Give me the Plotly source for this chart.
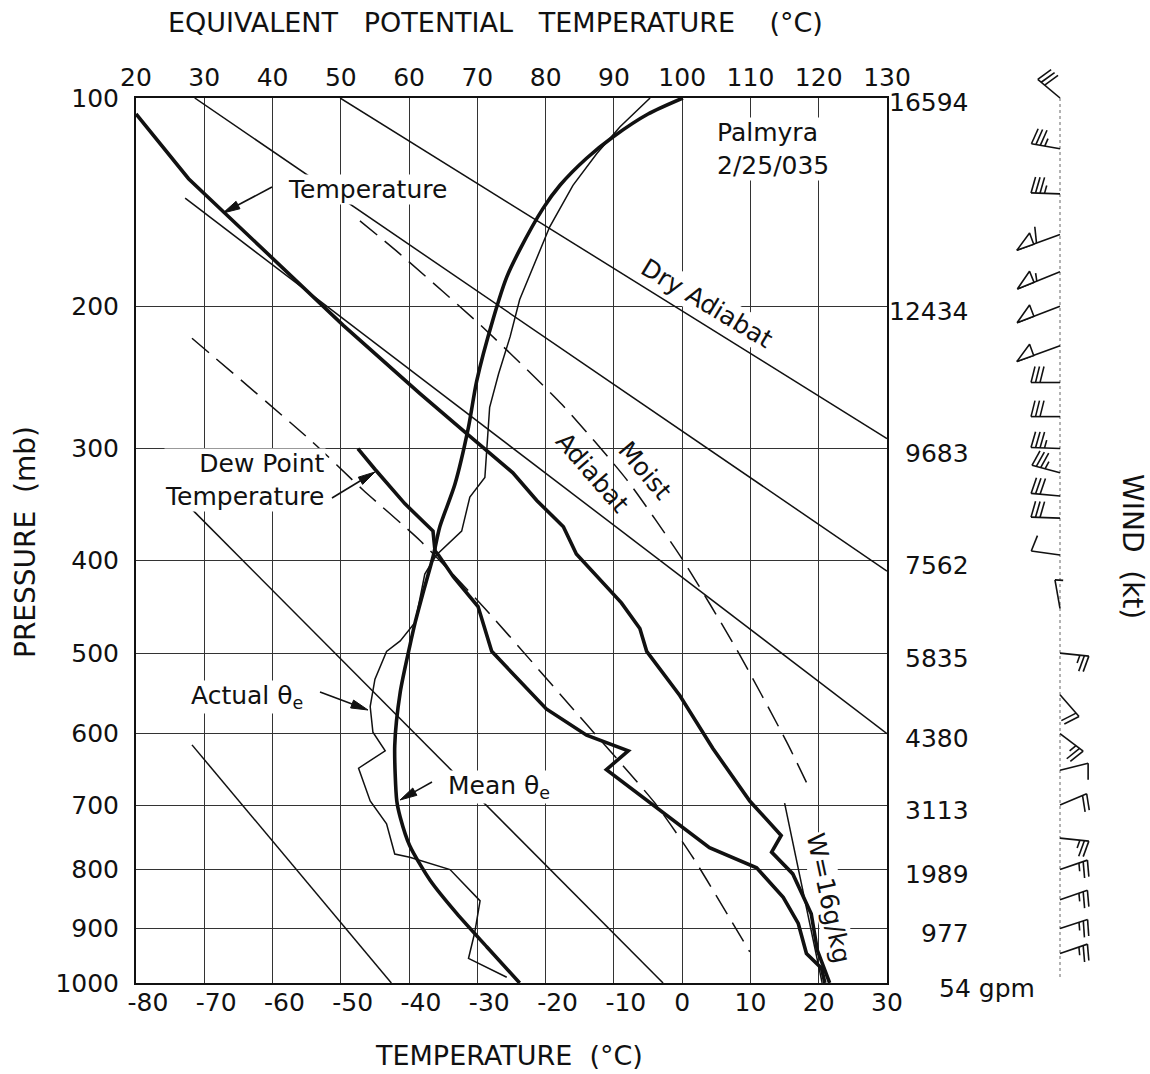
import math
import plotly.graph_objects as go

KAPPA = 0.286


def F(p):
    """Stuve vertical coordinate (p ** kappa)."""
    return p ** KAPPA


# ---------------- axis ticks / labels ----------------
p_levels = [100, 200, 300, 400, 500, 600, 700, 800, 900, 1000]
p_labels = ["100", "200", "300", "400", "500", "600", "700", "800", "900", "1000"]
height_labels = ["16594", "12434", "9683", "7562", "5835", "4380", "3113", "1989", "977", "54 gpm"]
t_ticks = [-80, -70, -60, -50, -40, -30, -20, -10, 0, 10, 20, 30]
te_ticks = [20, 30, 40, 50, 60, 70, 80, 90, 100, 110, 120, 130]

# ---------------- sounding: temperature (degC, mb) ----------------
temp_T = [-80.0, -72.3, -49.6, -38.4, -31.6, -24.8, -21.3, -17.4, -15.5, -10.1, -8.9,
          -6.2, -5.2, -0.35, 4.5, 9.9, 14.5, 13.1, 16.2, 18.9, 19.8, 21.6]
temp_p = [106, 133, 212, 258, 288, 320, 344, 368, 394, 435, 444,
          472, 498, 551, 620, 694, 746, 772, 807, 874, 939, 1000]

# ---------------- dew point (degC, mb) ----------------
dew_T = [-47.5, -45.0, -40.6, -36.5, -36.2, -35.7, -33.5, -29.9, -27.9, -19.9, -14.0,
         -7.9, -11.1, 2.6, 4.0, 10.9, 14.8, 17.0, 18.2, 20.4, 20.9]
dew_p = [300, 317, 347, 372, 391, 395, 417, 448, 498, 568, 602,
         623, 649, 753, 765, 797, 846, 891, 945, 972, 1000]

# ---------------- equivalent potential temperature (degC, mb) ----------------
actual_te = [95.3, 90.9, 87.5, 84.0, 80.6, 78.2, 76.2, 74.8, 73.1, 71.8, 71.4, 71.1, 68.9,
             67.7, 64.0, 62.3, 60.9, 58.7, 56.7, 55.0, 54.3, 54.7, 56.5, 52.6, 54.3, 56.7,
             57.9, 60.1, 66.0, 70.4, 69.6, 68.7, 74.3]
actual_p = [100, 111, 122, 136, 156, 177, 196, 219, 244, 268, 297, 324, 341,
            372, 395, 414, 465, 486, 498, 531, 565, 598, 623, 647, 694, 728,
            775, 780, 800, 852, 908, 954, 989]

mean_te = [100.1, 95.0, 89.9, 86.0, 82.1, 79.6, 76.2, 74.3, 72.3, 69.9, 68.7, 66.7, 64.5,
           63.5, 62.1, 60.9, 60.1, 58.7, 57.9, 58.2, 58.7, 60.1, 63.1, 67.0, 71.4, 76.2]
mean_p = [100, 106, 115, 124, 136, 147, 168, 183, 208, 249, 283, 330, 368,
          397, 432, 465, 492, 547, 616, 694, 718, 762, 818, 874, 933, 1000]

# ---------------- reference lines ----------------
# dry adiabats: end points (T degC, p mb)
dry_T = [[-71.8, -42.6], [-71.8, -2.8], [-72.8, 30.0], [-71.4, 30.0], [-50.1, 30.0]]
dry_p = [[615, 1000], [352, 1000], [142, 600], [100, 411], [100, 292]]

# moist adiabats (dashed)
moist1_T = [-71.8, -54.3, -46.7, -38.4, -28.9, -16.5, -4.0, 1.6, 9.9]
moist1_p = [220, 294, 335, 381, 450, 563, 697, 781, 942]
moist2_T = [-47.2, -41.4, -29.2, -17.6, -8.1, 0.1, 8.0, 15.3, 18.2]
moist2_p = [153, 170, 213, 266, 326, 400, 496, 611, 667]

# saturation mixing ratio line W = 16 g/kg
mix_T = [15.0, 20.5]
mix_p = [697, 1000]

# ---------------- winds (mb, direction deg, speed kt) ----------------
wind_p = [100, 120, 140, 160, 180, 200, 225, 250, 275, 300, 320, 340, 360,
          395, 450, 500, 550, 600, 650, 700, 750, 800, 850, 900, 945]
wind_dir = [310, 280, 272, 250, 248, 249, 250, 270, 270, 272, 285, 275, 272,
            278, 350, 96, 139, 127, 76, 67, 96, 71, 71, 72, 71]
wind_spd = [30, 35, 35, 60, 55, 50, 50, 30, 30, 35, 35, 30, 30,
            10, 5, 25, 20, 25, 10, 20, 25, 25, 25, 25, 25]

# ---------------- layout geometry ----------------
W, H = 1150, 1074
ML, MR, MT, MB = 136, 10, 40, 91
PW_, PH_ = W - ML - MR, H - MT - MB
X_RIGHT, Y_TOP = 887, 98
XDOM = [0, (X_RIGHT - ML) / PW_]
YDOM = [0, (H - MB - Y_TOP) / PH_]
PXF = (H - MB - Y_TOP) / (F(1000) - F(100))   # pixels per unit of F


def px(x):
    return (x - ML) / PW_


def py(y):
    return (H - MB - y) / PH_


FONT = "DejaVu Sans"
BLACK = "#111111"
NB = "\u00a0"

fig = go.Figure()

# dry adiabats
for tt, pp in zip(dry_T, dry_p):
    fig.add_trace(go.Scatter(x=tt, y=[F(v) for v in pp], mode="lines",
                             line=dict(color=BLACK, width=1.5), hoverinfo="skip"))

# moist adiabats
for tt, pp in [(moist1_T, moist1_p), (moist2_T, moist2_p)]:
    fig.add_trace(go.Scatter(x=tt, y=[F(v) for v in pp], mode="lines",
                             line=dict(color=BLACK, width=1.5, dash="22px,10px",
                                       shape="spline", smoothing=0.6),
                             hoverinfo="skip"))

# mixing ratio line
fig.add_trace(go.Scatter(x=mix_T, y=[F(v) for v in mix_p], mode="lines",
                         line=dict(color=BLACK, width=1.5), hoverinfo="skip"))

# temperature & dew point
fig.add_trace(go.Scatter(x=temp_T, y=[F(v) for v in temp_p], mode="lines",
                         line=dict(color=BLACK, width=3.6), name="Temperature"))
fig.add_trace(go.Scatter(x=dew_T, y=[F(v) for v in dew_p], mode="lines",
                         line=dict(color=BLACK, width=3.6), name="Dew Point"))

# equivalent potential temperature (top axis)
fig.add_trace(go.Scatter(x=actual_te, y=[F(v) for v in actual_p], xaxis="x2", yaxis="y",
                         mode="lines", line=dict(color=BLACK, width=1.5),
                         name="Actual theta-e"))
fig.add_trace(go.Scatter(x=mean_te, y=[F(v) for v in mean_p], xaxis="x2", yaxis="y",
                         mode="lines", line=dict(color=BLACK, width=3.6, shape="spline",
                                                 smoothing=0.7),
                         name="Mean theta-e"))

# ---------------- wind barbs ----------------
STAFF_X = 1060
fig.add_trace(go.Scatter(x=[STAFF_X, STAFF_X], y=[F(100), F(990)], xaxis="x3", yaxis="y3",
                         mode="lines", line=dict(color="#666666", width=1, dash="dot"),
                         hoverinfo="skip"))
bx, by, fx, fy = [], [], [], []
FL, SP, PWID = 16, 4.5, 18
for p, d, s in zip(wind_p, wind_dir, wind_spd):
    fb = F(p)
    rad = math.radians(d)
    ux, uy = math.sin(rad), -math.cos(rad)      # toward the wind source (screen px, y down)
    nx, ny = -uy, ux                             # feather side
    n50 = s // 50
    rem = s - 50 * n50
    n10 = rem // 10
    n5 = 1 if rem - 10 * n10 >= 5 else 0
    L = 46 if n50 else 29

    def P(r, off=0.0, back=0.0):
        xx = r * ux + off * nx - back * ux
        yy = r * uy + off * ny - back * uy
        return STAFF_X + xx, fb + yy / PXF

    x0, y0 = P(0)
    x1, y1 = P(L)
    bx += [x0, x1, None]
    by += [y0, y1, None]
    r = L
    for _ in range(n50):
        a = P(r)
        b = P(r - PWID)
        c = P(r - PWID, 12)
        fx += [a[0], b[0], c[0], a[0], None]
        fy += [a[1], b[1], c[1], a[1], None]
        r -= PWID + 3
    for _ in range(n10):
        a = P(r)
        b = P(r, FL, 0.25 * FL)
        bx += [a[0], b[0], None]
        by += [a[1], b[1], None]
        r -= SP
    if n5:
        a = P(r)
        b = P(r, FL / 2, 0.12 * FL)
        bx += [a[0], b[0], None]
        by += [a[1], b[1], None]

fig.add_trace(go.Scatter(x=bx, y=by, xaxis="x3", yaxis="y3", mode="lines",
                         line=dict(color=BLACK, width=1.6), hoverinfo="skip"))
fig.add_trace(go.Scatter(x=fx, y=fy, xaxis="x3", yaxis="y3", mode="lines", fill="toself",
                         fillcolor="white", line=dict(color=BLACK, width=1.6),
                         hoverinfo="skip"))

# ---------------- annotations & label arrows ----------------
ann = []
shapes = []


def text(x, y, t, size=25, angle=0, bg=None, **kw):
    d = dict(x=px(x), y=py(y), xref="paper", yref="paper", text=t, showarrow=False,
             textangle=angle, xanchor="center", yanchor="middle",
             font=dict(family=FONT, size=size, color=BLACK))
    if bg:
        d.update(bgcolor=bg, borderpad=0)
    d.update(kw)
    ann.append(d)


def arrow(tip_x, tip_y, tail_x, tail_y, head=17, half=4.2):
    """Label leader: a line with a filled, narrow arrow head (pixel layout positions)."""
    dx, dy = tip_x - tail_x, tip_y - tail_y
    n = math.hypot(dx, dy)
    ux, uy = dx / n, dy / n
    bx_, by_ = tip_x - head * ux, tip_y - head * uy
    shapes.append(dict(type="line", xref="paper", yref="paper",
                       x0=px(tail_x), y0=py(tail_y), x1=px(bx_), y1=py(by_),
                       line=dict(color=BLACK, width=1.6)))
    lx, ly = bx_ - half * uy, by_ + half * ux
    rx, ry = bx_ + half * uy, by_ - half * ux
    path = "M {:.5f} {:.5f} L {:.5f} {:.5f} L {:.5f} {:.5f} Z".format(
        px(tip_x), py(tip_y), px(lx), py(ly), px(rx), py(ry))
    shapes.append(dict(type="path", xref="paper", yref="paper", path=path,
                       fillcolor=BLACK, line=dict(color=BLACK, width=1)))


text(495, 22, "EQUIVALENT" + NB * 3 + "POTENTIAL" + NB * 3 + "TEMPERATURE" + NB * 4 + "(°C)",
     size=27)
text(509, 1055, "TEMPERATURE" + NB + " (°C)", size=27)
text(25, 542, "PRESSURE" + NB * 2 + "(mb)", size=28, angle=-90)
text(1133, 546, "WIND" + NB + " (kt)", size=28, angle=90)

text(367, 190, "Temperature", bg="white")
arrow(223, 213, 272, 187)
text(716, 149, "Palmyra<br>2/25/035", bg="white", xanchor="left", align="left")
text(707, 303, "Dry Adiabat", angle=31, bg="white")
text(645, 470, "Moist", angle=50)
text(592, 473, "Adiabat", angle=49)
text(326, 480, "Dew Point<br>Temperature", bg="white", xanchor="right", align="right")
arrow(375, 472, 332, 498)
text(247, 697, "Actual θ<sub>e</sub>", bg="white")
arrow(368, 710, 320, 692)
text(499, 787, "Mean θ<sub>e</sub>", bg="white")
arrow(400, 800, 432, 782)
text(829, 898, "W=16g/kg", angle=78, bg="white")

# geopotential heights on the right
for p, lab in zip(p_levels, height_labels):
    d = dict(xref="paper", y=F(p), yref="y", text=lab, showarrow=False, yshift=-5,
             yanchor="middle", font=dict(family=FONT, size=25, color=BLACK))
    if "gpm" in lab:
        d.update(x=px(937), xanchor="left")
    else:
        d.update(x=px(971), xanchor="right")
    ann.append(d)

t_ticktext = [(NB * 3 + str(t)) if t < 0 else str(t) for t in t_ticks]

axis_common = dict(showline=True, mirror=True, linecolor=BLACK, linewidth=2,
                   zeroline=False, ticks="", automargin=False,
                   tickfont=dict(family=FONT, size=25, color=BLACK))

fig.update_layout(
    width=W, height=H, autosize=False,
    margin=dict(l=ML, r=MR, t=MT, b=MB, autoexpand=False),
    paper_bgcolor="white", plot_bgcolor="white",
    showlegend=False,
    xaxis=dict(domain=XDOM, range=[-80, 30], tickvals=t_ticks, ticktext=t_ticktext,
               tickangle=0, showgrid=True, gridcolor="#333333", gridwidth=1, anchor="y",
               ticklabelstandoff=-4, **axis_common),
    xaxis2=dict(overlaying="x", side="top", anchor="y", range=[20, 130], tickvals=te_ticks,
                tickangle=0, showgrid=False, showline=False, zeroline=False, ticks="",
                automargin=False, ticklabelstandoff=6,
                tickfont=dict(family=FONT, size=25, color=BLACK)),
    yaxis=dict(domain=YDOM, range=[F(1000), F(100)], tickvals=[F(p) for p in p_levels],
               ticktext=p_labels, showgrid=True, gridcolor="#333333", gridwidth=1,
               anchor="x", ticklabelstandoff=10, **axis_common),
    xaxis3=dict(domain=[px(995), px(1135)], range=[995, 1135], anchor="y3", visible=False,
                automargin=False),
    yaxis3=dict(domain=[0, 1], range=[F(1000), F(100) - (Y_TOP - MT) / PXF], anchor="x3",
                visible=False, automargin=False),
    annotations=ann,
    shapes=shapes,
)

fig.write_html("out.html")
